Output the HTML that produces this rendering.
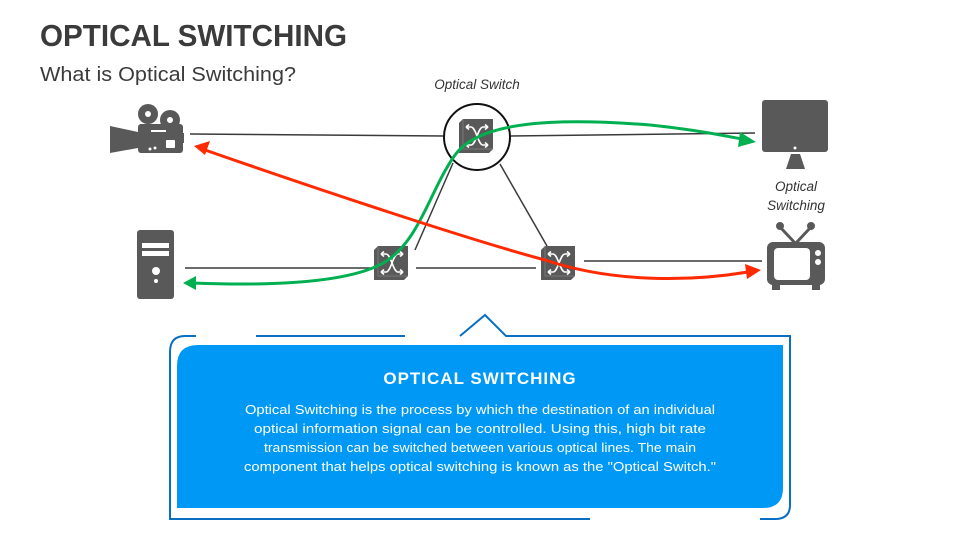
<!DOCTYPE html>
<html><head><meta charset="utf-8"><style>
body{margin:0;background:#fff;}
svg{display:block;font-family:"Liberation Sans",sans-serif;}
</style></head><body>
<svg width="960" height="540" viewBox="0 0 960 540" xmlns="http://www.w3.org/2000/svg">
<defs>
<g id="sw">
<path d="M0,4 L4,0 L34,0 L34,30 L30,34 L0,34 Z" fill="#595959"/>
<path d="M4,0 L4,30 L34,30" fill="none" stroke="#777" stroke-width="1"/>
<g stroke="#fff" stroke-width="1.6" fill="none">
<path d="M7,8 H12 C17,8 19,26 24,26 H29"/>
<path d="M7,26 H12 C17,26 19,8 24,8 H29"/>
<path d="M7,8 l3,-2.5 M7,8 l3,2.5 M29,8 l-3,-2.5 M29,8 l-3,2.5 M7,26 l3,-2.5 M7,26 l3,2.5 M29,26 l-3,-2.5 M29,26 l-3,2.5"/>
</g>
</g>
</defs>
<text x="40" y="46" font-size="31" font-weight="bold" fill="#3b3b3b" textLength="307" lengthAdjust="spacingAndGlyphs">OPTICAL SWITCHING</text>
<text x="40" y="81" font-size="20" fill="#3b3b3b" textLength="256" lengthAdjust="spacingAndGlyphs">What is Optical Switching?</text>
<text x="477" y="89" font-size="13.5" font-style="italic" fill="#333" text-anchor="middle">Optical Switch</text>
<text x="796" y="191" font-size="13.5" font-style="italic" fill="#333" text-anchor="middle">Optical</text>
<text x="796" y="210" font-size="13.5" font-style="italic" fill="#333" text-anchor="middle">Switching</text>

<g stroke="#3a3a3a" stroke-width="1.5" fill="none">
<line x1="190" y1="134" x2="444" y2="136"/>
<line x1="510" y1="136" x2="755" y2="133"/>
<line x1="453" y1="163" x2="415" y2="250"/>
<line x1="500" y1="164" x2="547" y2="246"/>
<line x1="185" y1="268" x2="372" y2="268"/>
<line x1="416" y1="268" x2="536" y2="268"/>
<line x1="584" y1="261" x2="762" y2="261"/>
</g>
<circle cx="477" cy="137" r="33" fill="#fff" stroke="#111" stroke-width="2"/>
<use href="#sw" x="459" y="119"/>
<use href="#sw" x="374" y="246"/>
<use href="#sw" x="541" y="246"/>

<path d="M193,283 C270,286 350,283 385,262 C420,240 430,190 455,155 C480,120 560,118 650,125 C700,130 730,137 742,139" fill="none" stroke="#00b050" stroke-width="3"/>
<path d="M183,283 L196,276 L196,290 Z" fill="#00b050"/>
<path d="M756,142 L740,132 L738,147 Z" fill="#00b050"/>
<path d="M205,150 C320,190 470,240 545,260 C620,285 700,280 748,272" fill="none" stroke="#ff2a00" stroke-width="3"/>
<path d="M194,146 L210,141 L205,155 Z" fill="#ff2a00"/>
<path d="M761,270 L745,264 L747,279 Z" fill="#ff2a00"/>

<g fill="#595959">
<circle cx="148" cy="114" r="10"/><circle cx="170" cy="120" r="10"/>
<rect x="138" y="124" width="45" height="29" rx="3"/>
<path d="M110,126 L138,132 L138,148 L110,153 Z"/>
<rect x="180" y="133" width="4" height="10"/>
</g>
<circle cx="148" cy="114" r="3" fill="#fff"/><circle cx="170" cy="120" r="3" fill="#fff"/>
<rect x="151" y="130" width="15" height="2" fill="#fff"/>
<rect x="166" y="140" width="9" height="8" rx="1" fill="#fff"/>
<circle cx="150" cy="149" r="1.5" fill="#fff"/><circle cx="155" cy="148" r="1.5" fill="#fff"/>
<rect x="137" y="230" width="37" height="69" rx="3" fill="#595959"/>
<rect x="142" y="243" width="27" height="5" fill="#fff"/><rect x="142" y="251" width="27" height="5" fill="#fff"/>
<circle cx="156" cy="271" r="4" fill="#fff"/><circle cx="156" cy="281" r="2" fill="#fff"/>
<rect x="762" y="100" width="66" height="52" rx="3" fill="#595959"/>
<circle cx="795" cy="148" r="1.5" fill="#fff"/>
<path d="M791,154 L800,154 L805,169 L786,169 Z" fill="#595959"/>
<g fill="#595959" stroke="#595959">
<line x1="780" y1="227" x2="795" y2="243" stroke-width="3"/><line x1="811" y1="227" x2="796" y2="243" stroke-width="3"/>
<circle cx="780" cy="226" r="3.5"/><circle cx="811" cy="226" r="3.5"/>
<rect x="767" y="242" width="58" height="43" rx="6" stroke="none"/>
<rect x="772" y="282" width="8" height="8" stroke="none"/><rect x="812" y="282" width="8" height="8" stroke="none"/>
</g>
<rect x="774" y="248" width="36" height="32" rx="4" fill="#fff"/>
<circle cx="818" cy="253" r="3" fill="#fff"/><circle cx="818" cy="262" r="3" fill="#fff"/>

<g fill="none" stroke="#0a6fc2" stroke-width="2">
<path d="M196,336 H185 Q170,336 170,352 V519 H590"/>
<path d="M256,336 H405 M460,336 L485,315 L506,336 H790 V505 Q790,519 775,519 H760"/>
</g>
<path d="M198,345 H783 V488 Q783,508 763,508 H177 V366 Q177,345 198,345 Z" fill="#0098f5"/>
<text x="480" y="384" font-size="17" font-weight="bold" fill="#fff" text-anchor="middle" letter-spacing="1">OPTICAL SWITCHING</text>
<g font-size="13" fill="#fff" text-anchor="middle" lengthAdjust="spacingAndGlyphs">
<text x="480" y="414" textLength="470" lengthAdjust="spacingAndGlyphs">Optical Switching is the process by which the destination of an individual</text>
<text x="480" y="433" textLength="452" lengthAdjust="spacingAndGlyphs">optical information signal can be controlled. Using this, high bit rate</text>
<text x="480" y="452" textLength="432" lengthAdjust="spacingAndGlyphs">transmission can be switched between various optical lines. The main</text>
<text x="480" y="471" textLength="472" lengthAdjust="spacingAndGlyphs">component that helps optical switching is known as the "Optical Switch."</text>
</g>
</svg>
</body></html>
